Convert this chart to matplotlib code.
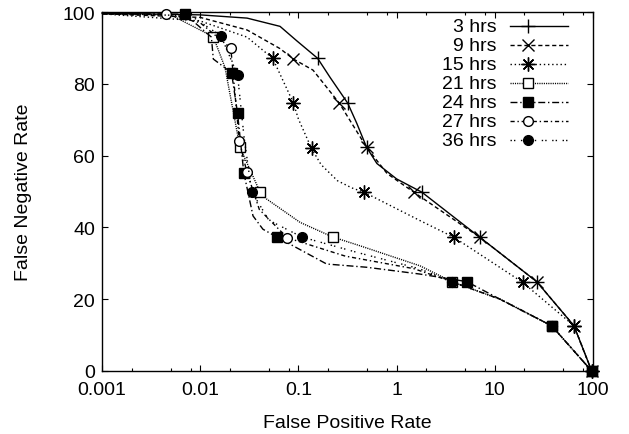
import numpy as np
import matplotlib
matplotlib.use("Agg")
import matplotlib.pyplot as plt
from matplotlib.ticker import FixedLocator, NullFormatter

plt.rcParams['font.family'] = ['Liberation Sans', 'DejaVu Sans']

labels = ['3 hrs', '9 hrs', '15 hrs', '21 hrs', '24 hrs', '27 hrs', '36 hrs']

# curve vertices (false positive rate, false negative rate)
x_3h = [0.001, 0.01, 0.03, 0.065, 0.096, 0.157, 0.21, 0.318, 0.393, 0.495, 0.63, 1.0, 1.81, 7.07, 26.7, 64, 97]
y_3h = [99.7, 99.2, 98.3, 96.0, 92.0, 87.1, 81.8, 74.6, 69.0, 62.3, 57.8, 53.5, 49.8, 37.2, 24.9, 12.6, 0]
m_3h = [5, 7, 9, 12, 13, 14, 15, 16]

x_9h = [0.001, 0.01, 0.03, 0.065, 0.089, 0.141, 0.261, 0.495, 0.8, 1.5, 7.07, 26.7, 64, 97]
y_9h = [99.5, 98.5, 95.0, 89.8, 86.9, 83.8, 74.6, 62.3, 55.0, 49.8, 37.2, 24.9, 12.6, 0]
m_9h = [4, 6, 7, 9, 10, 11, 12, 13]

x_15h = [0.001, 0.01, 0.03, 0.0547, 0.0888, 0.1, 0.136, 0.17, 0.25, 0.35, 0.466, 1.73, 3.86, 19.2, 64, 97]
y_15h = [99.5, 97.5, 93.0, 87.1, 74.7, 70.2, 62.0, 57.5, 53.0, 51.0, 49.8, 41.9, 37.2, 24.7, 12.6, 0]
m_15h = [3, 4, 6, 10, 12, 13, 14, 15]

x_21h = [0.001, 0.005, 0.0136, 0.0179, 0.0254, 0.0406, 0.0475, 0.104, 0.225, 0.422, 1.73, 3.64, 11.3, 37.9, 97]
y_21h = [99.5, 99.2, 93.1, 84.5, 62.3, 49.9, 47.9, 41.4, 37.3, 34.9, 29.3, 24.9, 20.0, 12.6, 0]
m_21h = [2, 4, 5, 8, 11, 13, 14]

x_24h = [0.001, 0.007, 0.013, 0.0136, 0.0186, 0.0209, 0.024, 0.0278, 0.0345, 0.0435, 0.0605, 0.194, 0.495, 1.73, 5.18, 11.3, 37.9, 97]
y_24h = [99.5, 99.4, 93.0, 86.9, 84.1, 82.9, 71.8, 55.2, 43.2, 39.5, 37.3, 29.8, 28.9, 27.0, 24.9, 20.0, 12.6, 0]
m_24h = [1, 5, 6, 7, 10, 14, 16, 17]

x_27h = [0.001, 0.0045, 0.01, 0.0205, 0.025, 0.0298, 0.04, 0.077, 0.3, 1.5, 3.64, 11.3, 37.9, 97]
y_27h = [99.5, 99.4, 97.0, 89.9, 64.2, 55.5, 45.0, 37.1, 32.0, 28.5, 24.9, 20.0, 12.6, 0]
m_27h = [1, 3, 4, 5, 7, 10, 12, 13]

x_36h = [0.001, 0.008, 0.0163, 0.024, 0.028, 0.0334, 0.05, 0.109, 0.4, 1.7, 3.64, 11.3, 37.9, 97]
y_36h = [99.5, 99.0, 93.3, 82.5, 65.0, 50.0, 42.0, 37.3, 33.0, 28.5, 24.9, 20.0, 12.6, 0]
m_36h = [2, 3, 5, 7, 10, 12, 13]

xs = [x_3h, x_9h, x_15h, x_21h, x_24h, x_27h, x_36h]
ys = [y_3h, y_9h, y_15h, y_21h, y_24h, y_27h, y_36h]
marks = [m_3h, m_9h, m_15h, m_21h, m_24h, m_27h, m_36h]

styles = [
    dict(ls='-', marker='+', ms=10, mfc='black'),
    dict(ls=(0, (3, 2)), marker='x', ms=8, mfc='black'),
    dict(ls=(0, (1, 2)), marker=(8, 2, 0), ms=10, mfc='black'),
    dict(ls=(0, (0.8, 0.8)), marker='s', ms=7, mfc='white'),
    dict(ls=(0, (5, 2, 1, 2)), marker='s', ms=7.5, mfc='black'),
    dict(ls=(0, (3, 2, 1, 2)), marker='o', ms=7, mfc='white'),
    dict(ls=(0, (1, 1.5, 1, 4)), marker='o', ms=7, mfc='black'),
]

fig = plt.figure(figsize=(6.29, 4.35), dpi=100)
ax = fig.add_axes([102 / 629, 1 - 372 / 435, (593 - 102) / 629, (372 - 13) / 435])

for x, y, m, st in zip(xs, ys, marks, styles):
    ax.plot(x, y, color='black', lw=1.0, linestyle=st['ls'], marker=st['marker'],
            markersize=st['ms'], markerfacecolor=st['mfc'], markeredgecolor='black',
            markeredgewidth=1.0, markevery=m, clip_on=False, zorder=3)

ax.set_xscale('log')
ax.set_xlim(0.001, 100)
ax.set_ylim(0, 100)

ax.xaxis.set_major_locator(FixedLocator([0.001, 0.01, 0.1, 1, 10, 100]))
ax.set_xticklabels(['0.001', '0.01', '0.1', '1', '10', '100'])
minors = [d * m for d in [0.001, 0.01, 0.1, 1, 10] for m in (2, 5, 8)]
ax.xaxis.set_minor_locator(FixedLocator(minors))
ax.xaxis.set_minor_formatter(NullFormatter())
ax.set_yticks([0, 20, 40, 60, 80, 100])

ax.tick_params(which='both', direction='in', top=True, right=True, labelsize=14)
ax.tick_params(axis='x', which='major', pad=7)
ax.tick_params(axis='y', which='major', pad=5)
ax.tick_params(which='major', length=4.5, width=0.8)
ax.tick_params(which='minor', length=2.5, width=0.8)
for s in ax.spines.values():
    s.set_linewidth(1.0)

ax.set_xlabel('False Positive Rate', fontsize=14, labelpad=12)
ax.set_ylabel('False Negative Rate', fontsize=14, labelpad=22)

# gnuplot-style key: right-aligned text, sample line to the right
row_y = [0.961, 0.908, 0.855, 0.802, 0.749, 0.696, 0.643]
for lab, st, yy in zip(labels, styles, row_y):
    ax.text(0.803, yy, lab, transform=ax.transAxes, ha='right', va='center', fontsize=14)
    ax.plot([0.831, 0.8676, 0.949], [yy, yy, yy], transform=ax.transAxes, color='black',
            lw=1.0, linestyle=st['ls'], marker=st['marker'], markersize=st['ms'],
            markerfacecolor=st['mfc'], markeredgecolor='black', markeredgewidth=1.0,
            markevery=[1], clip_on=False)

fig.savefig('out.png', dpi=100)
